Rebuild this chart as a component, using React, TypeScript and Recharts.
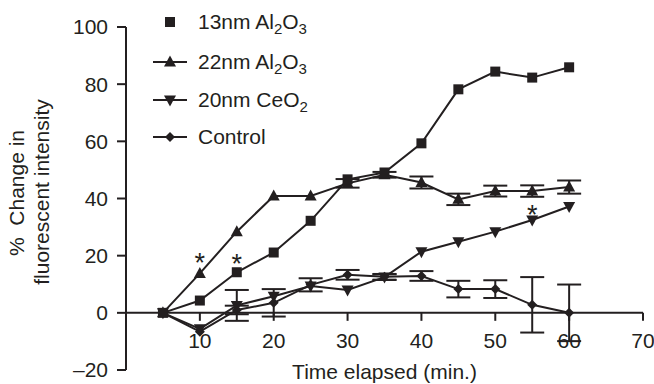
import { ComposedChart, Line, XAxis, YAxis, ErrorBar, ReferenceLine, Customized } from "recharts";

// minutes after exposure
const time = [5, 10, 15, 20, 25, 30, 35, 40, 45, 50, 55, 60];

// % change in fluorescent intensity
const al13 = [0, 4.3, 14.2, 21.1, 32.2, 46.7, 49.1, 59.3, 78.2, 84.4, 82.3, 85.9];
const al22 = [0, 13.8, 28.4, 40.9, 40.9, 45.3, 48.3, 45.6, 39.7, 42.6, 42.6, 44.0];
const ce20 = [0, -5.6, 2.6, 5.8, 9.4, 8.0, 12.5, 21.4, 24.9, 28.4, 32.5, 37.2];
const ctrl = [0, -6.6, 1.0, 3.5, 9.8, 13.3, 12.6, 12.9, 8.3, 8.3, 2.8, 0];

// standard errors (null = none drawn)
const al22Err = [null, null, null, null, null, 1.5, 1, 2.1, 2, 1.9, 2, 2.3];
const ce20Err = [null, null, 5.4, null, null, null, 1, null, null, null, null, null];
const ctrlErr = [null, null, 1.5, 4.8, 2.3, 1.7, 1, 1.7, 2.9, 3.1, 9.7, 9.9];

// significance markers (*)
const al13Sig = [15];
const al22Sig = [10];
const ce20Sig = [55];

const xTicks = [10, 20, 30, 40, 50, 60, 70];
const yTicks = [-20, 0, 20, 40, 60, 80, 100];
const yMin = -20;
const yMax = 100;

const data = time.map((t, i) => ({
  t,
  al13: al13[i],
  al22: al22[i],
  ce20: ce20[i],
  ctrl: ctrl[i],
  al22Err: al22Err[i],
  ce20Err: ce20Err[i],
  ctrlErr: ctrlErr[i],
}));

const INK = "#231f20";
const FONT = "'Liberation Sans', Arial, Helvetica, sans-serif";
const FS = 21;
const W = 654;
const H = 384;
const MARGIN = { top: 27, right: 11, bottom: 0, left: 0 };
const Y_AXIS_W = 126;
const X_AXIS_H = 14;
const PLOT_BOTTOM = H - MARGIN.bottom - X_AXIS_H;
const PLOT_H = PLOT_BOTTOM - MARGIN.top;
const ZERO_Y = PLOT_BOTTOM - (PLOT_H * (0 - yMin)) / (yMax - yMin);

function Square({ cx, cy, index }: any) {
  if (cx == null || cy == null) return null;
  return <rect key={`sq-${index}`} x={cx - 5} y={cy - 5} width={10} height={10} fill={INK} />;
}

function TriUp({ cx, cy, index }: any) {
  if (cx == null || cy == null) return null;
  return <path key={`tu-${index}`} d={`M${cx},${cy - 6.5}L${cx + 6},${cy + 4.5}L${cx - 6},${cy + 4.5}Z`} fill={INK} />;
}

function TriDown({ cx, cy, index }: any) {
  if (cx == null || cy == null) return null;
  return <path key={`td-${index}`} d={`M${cx},${cy + 6.5}L${cx + 6},${cy - 4.5}L${cx - 6},${cy - 4.5}Z`} fill={INK} />;
}

function Diamond({ cx, cy, index }: any) {
  if (cx == null || cy == null) return null;
  return <path key={`di-${index}`} d={`M${cx},${cy - 5}L${cx + 5},${cy}L${cx},${cy + 5}L${cx - 5},${cy}Z`} fill={INK} />;
}

function starLabel(sig: number[], dy: number) {
  return (p: any) => {
    const t = time[p.index];
    if (!sig.includes(t)) return null;
    return (
      <text key={`star-${p.index}`} x={p.x} y={p.y + dy} textAnchor="middle" fontSize={27} fontFamily={FONT} fill={INK}>
        *
      </text>
    );
  };
}

function XTick({ x, payload }: any) {
  return (
    <g>
      <line x1={x} x2={x} y1={ZERO_Y} y2={ZERO_Y + 8} stroke={INK} strokeWidth={2} />
      <text x={x} y={ZERO_Y + 35} textAnchor="middle" fontSize={FS} fontFamily={FONT} fill={INK}>
        {payload.value}
      </text>
    </g>
  );
}

function XTitle({ viewBox }: any) {
  const cx = viewBox.x + viewBox.width / 2;
  return (
    <text x={cx} y={379} textAnchor="middle" fontSize={FS} fontFamily={FONT} fill={INK}>
      Time elapsed (min.)
    </text>
  );
}

function YTitle() {
  return (
    <g fontSize={FS} fontFamily={FONT} fill={INK}>
      <text x={24} y={193} transform="rotate(-90, 24, 193)" textAnchor="middle">
        {"%\u00a0\u00a0Change in"}
      </text>
      <text x={49} y={192} transform="rotate(-90, 49, 192)" textAnchor="middle">
        fluorescent intensity
      </text>
    </g>
  );
}

const legendRows = [
  { label: ["13nm Al", "2", "O", "3"], shape: Square, line: false },
  { label: ["22nm Al", "2", "O", "3"], shape: TriUp, line: true },
  { label: ["20nm CeO", "2"], shape: TriDown, line: true },
  { label: ["Control"], shape: Diamond, line: true },
];

function LegendBlock() {
  const rowY = [22, 62, 100, 137];
  return (
    <g fontFamily={FONT} fill={INK}>
      {legendRows.map((r, i) => {
        const y = rowY[i];
        const Shape = r.shape;
        return (
          <g key={r.label.join("")}>
            {r.line && <line x1={153} x2={187} y1={y} y2={y} stroke={INK} strokeWidth={2} />}
            <Shape cx={170} cy={y} index={i} />
            <text x={198} y={y + 7} fontSize={FS}>
              {r.label.map((s, j) =>
                j % 2 === 1 ? (
                  <tspan key={j} fontSize={15} dy={5}>
                    {s}
                  </tspan>
                ) : (
                  <tspan key={j} dy={j === 0 ? 0 : -5}>
                    {s}
                  </tspan>
                )
              )}
            </text>
          </g>
        );
      })}
    </g>
  );
}

export default function App() {
  return (
    <div style={{ position: "absolute", left: 0, top: 0, background: "#fff" }}>
      <ComposedChart width={W} height={H} data={data} margin={MARGIN}>
        <XAxis
          dataKey="t"
          type="number"
          domain={[0, 70]}
          ticks={xTicks}
          height={X_AXIS_H}
          axisLine={false}
          tickLine={false}
          tickSize={0}
          tick={<XTick />}
          interval={0}
          label={<XTitle />}
        />
        <YAxis
          type="number"
          domain={[yMin, yMax]}
          ticks={yTicks}
          width={Y_AXIS_W}
          axisLine={{ stroke: INK, strokeWidth: 2 }}
          tickLine={{ stroke: INK, strokeWidth: 2 }}
          tickSize={9}
          tickMargin={9}
          tick={{ fill: INK, fontSize: FS, fontFamily: FONT }}
          tickFormatter={(v: number) => (v < 0 ? `–${-v}` : `${v}`)}
          interval={0}
        />
        <ReferenceLine y={0} stroke={INK} strokeWidth={2} />
        <Line dataKey="ctrl" stroke={INK} strokeWidth={2} dot={<Diamond />} activeDot={false} isAnimationActive={false}>
          <ErrorBar dataKey="ctrlErr" width={12} stroke={INK} strokeWidth={2} direction="y" />
        </Line>
        <Line dataKey="ce20" stroke={INK} strokeWidth={2} dot={<TriDown />} activeDot={false} isAnimationActive={false} label={starLabel(ce20Sig, 4)}>
          <ErrorBar dataKey="ce20Err" width={12} stroke={INK} strokeWidth={2} direction="y" />
        </Line>
        <Line dataKey="al22" stroke={INK} strokeWidth={2} dot={<TriUp />} activeDot={false} isAnimationActive={false} label={starLabel(al22Sig, -1)}>
          <ErrorBar dataKey="al22Err" width={12} stroke={INK} strokeWidth={2} direction="y" />
        </Line>
        <Line dataKey="al13" stroke={INK} strokeWidth={2} dot={<Square />} activeDot={false} isAnimationActive={false} label={starLabel(al13Sig, 1)} />
        <Customized component={<YTitle />} />
        <Customized component={<LegendBlock />} />
      </ComposedChart>
    </div>
  );
}
